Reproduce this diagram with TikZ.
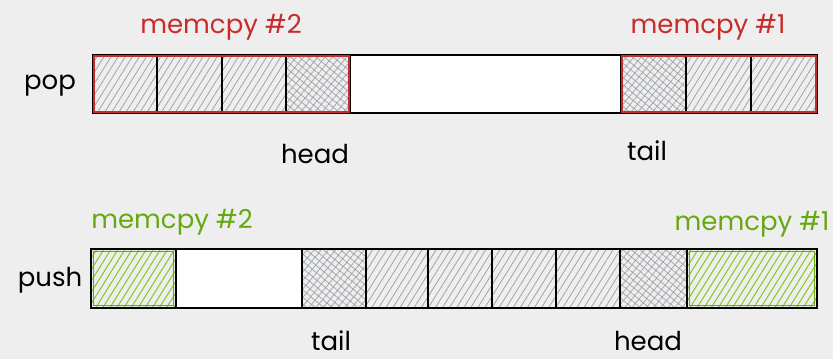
\documentclass[tikz,border=0pt]{standalone}
\usepackage{fontspec}
\setmainfont{Poppins}
\usetikzlibrary{patterns.meta,fit}
\definecolor{bg}{HTML}{EEEEEE}
\definecolor{myred}{HTML}{C92A2A}
\definecolor{mygreen}{HTML}{66A80F}
\definecolor{lightgreen}{HTML}{82C91E}
\definecolor{hatchgray}{HTML}{9EA3A8}
\tikzset{
  cell/.style={draw=black, line width=1.8pt, minimum height=58pt, inner sep=0pt, outer sep=0pt},
  blank/.style={cell, fill=white},
  hatched/.style={cell, pattern={Lines[angle=58,distance=6pt,line width=0.8pt]}, pattern color=hatchgray},
  crossed/.style={cell, pattern={Hatch[angle=50,distance=5.5pt,line width=0.7pt]}, pattern color=hatchgray},
  greencell/.style={cell, pattern={Lines[angle=58,distance=6pt,line width=1pt]}, pattern color=lightgreen},
  greenbox/.style={draw=mygreen, line width=1.8pt, inner sep=-2.5pt},
  redbox/.style={draw=myred, line width=1.8pt, inner sep=-1pt},
  lbl/.style={font=\fontsize{26}{30}\selectfont, text=black, inner sep=0pt},
  redlbl/.style={lbl, text=myred},
  greenlbl/.style={lbl, text=mygreen},
}
\begin{document}
\begin{tikzpicture}[x=1pt,y=-1pt]
\fill[bg] (0,0) rectangle (833,359);
\useasboundingbox (0,0) rectangle (833,359);
% top row (pop)
\node[hatched, minimum width=64pt] (p1) at (125,84) {};
\node[hatched, minimum width=65pt] (p2) at (189.5,84) {};
\node[hatched, minimum width=64pt] (p3) at (254,84) {};
\node[crossed, minimum width=64pt] (p4) at (318,84) {};
\node[blank, minimum width=271pt] (pw) at (485.5,84) {};
\node[crossed, minimum width=65pt] (p5) at (653.5,84) {};
\node[hatched, minimum width=65pt] (p6) at (718.5,84) {};
\node[hatched, minimum width=66pt] (p7) at (784,84) {};
\node[redbox, fit=(p1)(p4)] (r2) {};
\node[redbox, fit=(p5)(p7)] (r1) {};
% bottom row (push)
\node[greencell, minimum width=85pt, minimum height=59pt] (q1) at (133.5,278.5) {};
\node[blank, minimum width=126pt, minimum height=59pt] (qw) at (239,278.5) {};
\node[crossed, minimum width=64pt, minimum height=59pt] (q2) at (334,278.5) {};
\node[hatched, minimum width=62pt, minimum height=59pt] (q3) at (397,278.5) {};
\node[hatched, minimum width=64pt, minimum height=59pt] (q4) at (460,278.5) {};
\node[hatched, minimum width=64pt, minimum height=59pt] (q5) at (524,278.5) {};
\node[hatched, minimum width=64pt, minimum height=59pt] (q6) at (588,278.5) {};
\node[crossed, minimum width=67pt, minimum height=59pt] (q7) at (653.5,278.5) {};
\node[greencell, minimum width=130pt, minimum height=59pt] (q8) at (752,278.5) {};
\node[greenbox, fit=(q1)] (g2) {};
\node[greenbox, fit=(q8)] (g1) {};
% labels
\node[lbl] (pop) at (50,86) {pop};
\node[lbl] (push) at (50,280) {push};
\node[redlbl] (m2r) at (221,27) {memcpy \#2};
\node[redlbl] (m1r) at (708,27) {memcpy \#1};
\node[lbl] (headt) at (315,154) {head};
\node[lbl] (tailt) at (647,151) {tail};
\node[greenlbl] (m2g) at (172,222) {memcpy \#2};
\node[greenlbl] (m1g) at (752,224) {memcpy \#1};
\node[lbl] (tailb) at (331,341) {tail};
\node[lbl] (headb) at (648,341) {head};
\end{tikzpicture}
\end{document}
